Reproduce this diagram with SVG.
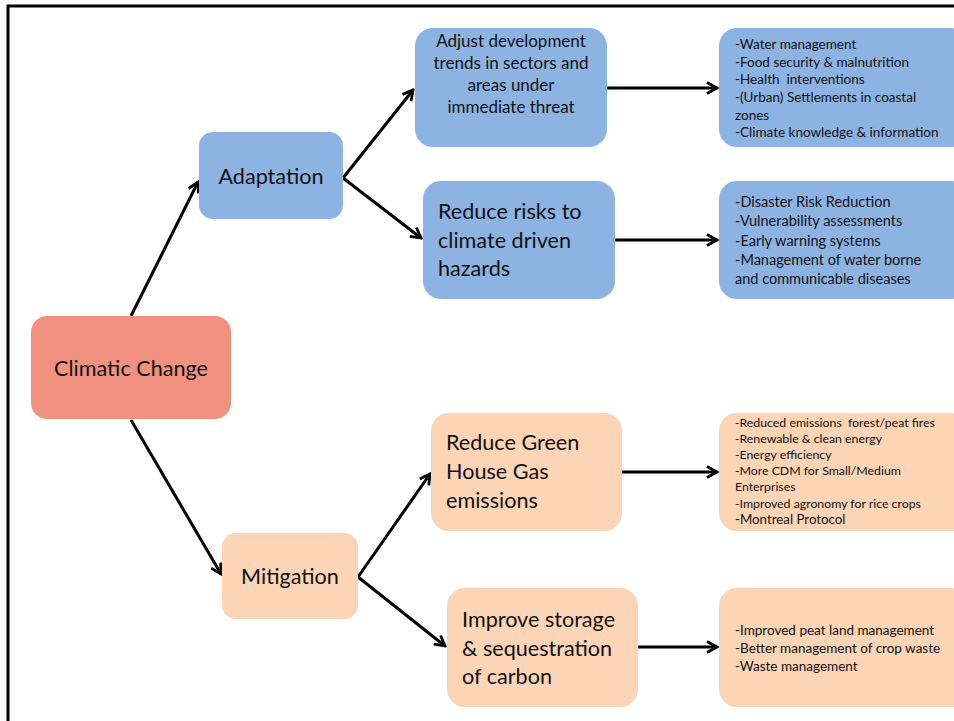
<svg xmlns="http://www.w3.org/2000/svg" width="954" height="721" viewBox="0 0 954 721">
<style>
text{font-family:Lato,"Open Sans","Liberation Sans",sans-serif;fill:#111;white-space:pre}
.blue{fill:#8DB3E2}
.peach{fill:#FBD5B5}
.red{fill:#F19180}
.big{font-size:21.6px}
.mid{font-size:17px}
.c{text-anchor:middle}
.conn line{stroke:#000;stroke-width:3;fill:none}
</style>
<defs>
<marker id="ah" viewBox="0 0 14 14" refX="12" refY="7" markerWidth="14" markerHeight="14" markerUnits="userSpaceOnUse" orient="auto">
<polyline points="2,1.5 12,7 2,12.5" fill="none" stroke="#000" stroke-width="2.8"/>
</marker>
</defs>
<rect width="954" height="721" fill="#fff"/>
<polyline points="8,721 8,6 954,6" fill="none" stroke="#000" stroke-width="3"/>
<g class="conn">
<line x1="131" y1="316" x2="198" y2="182" marker-end="url(#ah)"/>
<line x1="131" y1="420" x2="221" y2="574" marker-end="url(#ah)"/>
<line x1="343" y1="178" x2="413" y2="90" marker-end="url(#ah)"/>
<line x1="343" y1="178" x2="421" y2="238" marker-end="url(#ah)"/>
<line x1="358" y1="577" x2="430" y2="474" marker-end="url(#ah)"/>
<line x1="358" y1="577" x2="445" y2="646" marker-end="url(#ah)"/>
<line x1="607" y1="88" x2="717" y2="88" marker-end="url(#ah)"/>
<line x1="615" y1="240" x2="717" y2="240" marker-end="url(#ah)"/>
<line x1="622" y1="472" x2="717" y2="472" marker-end="url(#ah)"/>
<line x1="638" y1="647" x2="717" y2="647" marker-end="url(#ah)"/>
</g>
<g id="climatic">
<rect class="red" x="31" y="316" width="200" height="103" rx="16"/>
<text class="big c" x="131" y="376">Climatic Change</text>
</g>
<g id="adaptation">
<rect class="blue" x="199" y="132" width="144" height="87" rx="14"/>
<text class="big c" x="271" y="184">Adaptation</text>
</g>
<g id="mitigation">
<rect class="peach" x="222" y="533" width="136" height="86" rx="14"/>
<text class="big c" x="290" y="584">Mitigation</text>
</g>
<g id="adjust">
<rect class="blue" x="415" y="28" width="192" height="119" rx="18"/>
<text class="mid c" x="511" y="47">Adjust development</text>
<text class="mid c" x="511" y="69">trends in sectors and</text>
<text class="mid c" x="511" y="91">areas under</text>
<text class="mid c" x="511" y="113">immediate threat</text>
</g>
<g id="reducerisks">
<rect class="blue" x="423" y="181" width="192" height="118" rx="18"/>
<text class="big" x="438" y="219">Reduce risks to</text>
<text class="big" x="438" y="248">climate driven</text>
<text class="big" x="438" y="276">hazards</text>
</g>
<g id="reduceghg">
<rect class="peach" x="431" y="413" width="191" height="118" rx="18"/>
<text class="big" x="446" y="450">Reduce Green</text>
<text class="big" x="446" y="479">House Gas</text>
<text class="big" x="446" y="508">emissions</text>
</g>
<g id="improve">
<rect class="peach" x="447" y="588" width="191" height="119" rx="18"/>
<text class="big" x="462" y="627">Improve storage</text>
<text class="big" x="462" y="656">&amp; sequestration</text>
<text class="big" x="462" y="684">of carbon</text>
</g>
<g id="list1" font-size="13.5">
<rect class="blue" x="719" y="28" width="250" height="119" rx="18"/>
<text x="735" y="49">-Water management</text>
<text x="735" y="67">-Food security &amp; malnutrition</text>
<text x="735" y="84">-Health  interventions</text>
<text x="735" y="102">-(Urban) Settlements in coastal</text>
<text x="735" y="120">zones</text>
<text x="735" y="137">-Climate knowledge &amp; information</text>
</g>
<g id="list2" font-size="14.5">
<rect class="blue" x="719" y="181" width="250" height="118" rx="18"/>
<text x="735" y="207">-Disaster Risk Reduction</text>
<text x="735" y="226">-Vulnerability assessments</text>
<text x="735" y="246">-Early warning systems</text>
<text x="735" y="265">-Management of water borne</text>
<text x="735" y="284">and communicable diseases</text>
</g>
<g id="list3" font-size="12.3">
<rect class="peach" x="719" y="413" width="250" height="118" rx="18"/>
<text x="735" y="427">-Reduced emissions  forest/peat fires</text>
<text x="735" y="443">-Renewable &amp; clean energy</text>
<text x="735" y="459">-Energy efficiency</text>
<text x="735" y="475">-More CDM for Small/Medium</text>
<text x="735" y="491">Enterprises</text>
<text x="735" y="508">-Improved agronomy for rice crops</text>
<text x="735" y="524" font-size="13.3">-Montreal Protocol</text>
</g>
<g id="list4" font-size="13.5">
<rect class="peach" x="719" y="588" width="250" height="119" rx="18"/>
<text x="735" y="635">-Improved peat land management</text>
<text x="735" y="653">-Better management of crop waste</text>
<text x="735" y="671">-Waste management</text>
</g>
</svg>
